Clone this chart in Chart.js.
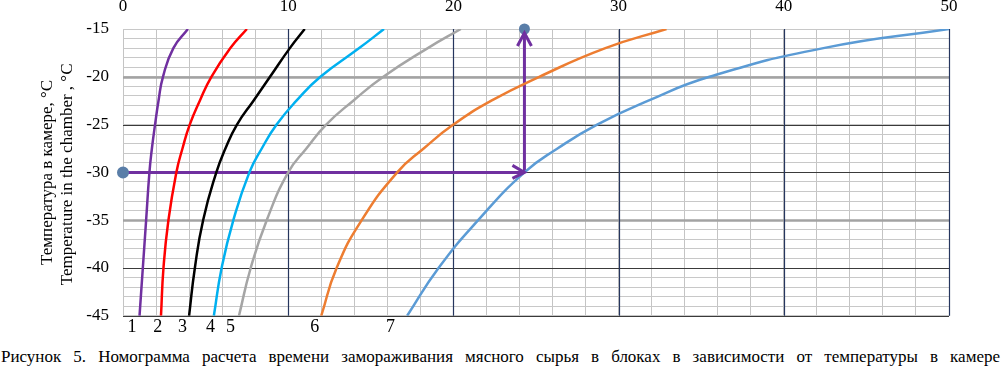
<!DOCTYPE html>
<html>
<head>
<meta charset="utf-8">
<script src="https://cdn.jsdelivr.net/npm/chart.js@4.4.1/dist/chart.umd.min.js"></script>
<style>
  html, body { margin: 0; padding: 0; background: #fff; }
  #wrap { position: relative; width: 1004px; height: 340px; }
  #caption {
    position: absolute; left: 1px; top: 347px; width: 999px;
    font-family: "Liberation Serif", "DejaVu Serif", serif; font-size: 17px; color: #000;
    text-align: justify; text-align-last: justify; white-space: nowrap;
  }
</style>
</head>
<body>
<div id="wrap"><canvas id="myChart" width="1004" height="340"></canvas></div>
<div id="caption">Рисунок 5. Номограмма расчета времени замораживания мясного сырья в блоках в зависимости от температуры в камере</div>
<script>
// temperatures (y) shared by all curves
const temps = [-45, -40, -35, -30, -27.5, -25, -22.5, -20, -17, -15];

// freezing time (x) for each curve
const curve1 = [1.0, 1.2, 1.4, 1.6, 1.75, 1.94, 2.15, 2.42, 3.05, 3.93];
const curve2 = [2.3, 2.45, 2.75, 3.23, 3.6, 4.04, 4.65, 5.35, 6.5, 7.5];
const curve3 = [4.0, 4.35, 4.85, 5.65, 6.2, 6.9, 7.9, 8.9, 10.1, 11.0];
const curve4 = [5.5, 5.97, 6.68, 7.65, 8.4, 9.3, 10.5, 11.95, 14.3, 15.8];
const curve5 = [7.02, 7.73, 8.7, 10.0, 11.1, 12.3, 13.94, 15.76, 18.45, 20.45];
const curve6 = [12.0, 12.93, 14.45, 16.6, 18.2, 20.0, 22.3, 25.2, 29.2, 32.9];
const curve7 = [17.2, 19.1, 21.5, 24.3, 26.3, 28.7, 31.8, 35.5, 42.4, 50.0];

const curveColors = ['#7030A0', '#FF0000', '#000000', '#00B0F0', '#A5A5A5', '#ED7D31', '#5B9BD5'];

// reading example (arrows)
const arrowX = [0, 24.3];
const arrowTemp = [-30, -15];

// curve numbers under the axis
const curveNames = ['1', '2', '3', '4', '5', '6', '7'];
const curveNameX = [0.55, 2.1, 3.6, 5.3, 6.5, 11.6, 16.2];

const xTicks = [0, 10, 20, 30, 40, 50];
const yTicks = [-15, -20, -25, -30, -35, -40, -45];

const serif = '"Liberation Serif", "DejaVu Serif", serif';

const curves = [curve1, curve2, curve3, curve4, curve5, curve6, curve7].map((c, i) => ({
  data: temps.map((t, j) => ({ x: c[j], y: t })),
  borderColor: curveColors[i],
  borderWidth: 2.5,
  pointRadius: 0,
  tension: 0.5,
  fill: false
}));

const arrowColor = '#7030A0';
const dotColor = '#5A7EA8';

const arrowH = {
  data: [{ x: arrowX[0], y: arrowTemp[0] }, { x: arrowX[1], y: arrowTemp[0] }],
  borderColor: arrowColor, borderWidth: 3,
  pointRadius: [4.5, 0], pointBackgroundColor: dotColor, pointBorderColor: dotColor,
  clip: false
};
const arrowV = {
  data: [{ x: arrowX[1], y: arrowTemp[0] }, { x: arrowX[1], y: arrowTemp[1] }],
  borderColor: arrowColor, borderWidth: 3,
  pointRadius: [0, 4], pointBackgroundColor: dotColor, pointBorderColor: dotColor,
  clip: false
};

const isGrayY = v => v === -20 || v === -35;
const isDarkY = v => v === -25 || v === -30 || v === -40 || v === -45;

// redraw the major grid lines on top of the minor ones
const majorGrid = {
  id: 'majorGrid',
  beforeDatasetsDraw(chart) {
    const { ctx, chartArea: a, scales: { x, y } } = chart;
    ctx.save();
    for (let v = -45; v <= -15; v++) {
      if (!isGrayY(v) && !isDarkY(v)) continue;
      const py = Math.round(y.getPixelForValue(v)) + 0.5;
      ctx.strokeStyle = isGrayY(v) ? '#A3A3A3' : '#3A3A3A';
      ctx.lineWidth = isGrayY(v) ? 2.5 : 1.2;
      ctx.beginPath(); ctx.moveTo(a.left, py); ctx.lineTo(a.right, py); ctx.stroke();
    }
    for (let v = 10; v <= 50; v += 10) {
      const px = Math.round(x.getPixelForValue(v)) + 0.5;
      ctx.strokeStyle = '#26365E';
      ctx.lineWidth = 1.2;
      ctx.beginPath(); ctx.moveTo(px, a.top); ctx.lineTo(px, a.bottom); ctx.stroke();
    }
    ctx.restore();
  }
};

const extras = {
  id: 'extras',
  afterDatasetsDraw(chart) {
    const { ctx, chartArea, scales: { x, y } } = chart;
    ctx.save();
    // arrow heads
    ctx.strokeStyle = arrowColor;
    ctx.lineWidth = 3;
    const hx = x.getPixelForValue(arrowX[1]);
    const hy = y.getPixelForValue(arrowTemp[0]);
    ctx.beginPath();
    ctx.moveTo(hx - 12, hy - 7); ctx.lineTo(hx, hy); ctx.lineTo(hx - 12, hy + 6);
    ctx.stroke();
    const vy = y.getPixelForValue(arrowTemp[1]) + 4;
    ctx.beginPath();
    ctx.moveTo(hx - 7, vy + 13); ctx.lineTo(hx, vy); ctx.lineTo(hx + 7, vy + 13);
    ctx.stroke();

    // curve numbers
    ctx.fillStyle = '#000';
    ctx.font = '18px ' + serif;
    ctx.textAlign = 'center';
    ctx.textBaseline = 'middle';
    curveNames.forEach((n, i) => {
      ctx.fillText(n, x.getPixelForValue(curveNameX[i]), chartArea.bottom + 11);
    });

    // axis title
    ctx.translate(58, (chartArea.top + chartArea.bottom) / 2);
    ctx.rotate(-Math.PI / 2);
    ctx.font = '17px ' + serif;
    ctx.fillText('Температура в камере, °C', 0, -10);
    ctx.fillText('Temperature in the chamber , °C', -2, 10);
    ctx.restore();
  }
};

new Chart(document.getElementById('myChart'), {
  type: 'line',
  data: { datasets: [...curves, arrowH, arrowV] },
  options: {
    responsive: false,
    animation: false,
    layout: { padding: { left: 0, top: 0, right: 55, bottom: 22 } },
    plugins: { legend: { display: false }, tooltip: { enabled: false } },
    scales: {
      x: {
        type: 'linear', position: 'top', min: 0, max: 50,
        afterFit: s => { s.height = 29; },
        border: { display: false },
        grid: { drawTicks: false, color: '#C4C4C4', lineWidth: 1 },
        ticks: {
          stepSize: 2, autoSkip: false, maxRotation: 0, padding: 12,
          color: '#000', font: { family: serif, size: 17 },
          callback: v => xTicks.includes(v) ? String(v) : ''
        }
      },
      y: {
        type: 'linear', position: 'left', min: -45, max: -15,
        afterFit: s => { s.width = 123; },
        border: { display: false },
        grid: { drawTicks: false, color: '#C8C8C8', lineWidth: 1 },
        ticks: {
          stepSize: 1, autoSkip: false, padding: 14,
          color: '#000', font: { family: serif, size: 17 },
          callback: v => yTicks.includes(v) ? String(v) : ''
        }
      }
    }
  },
  plugins: [majorGrid, extras]
});
</script>
</body>
</html>
